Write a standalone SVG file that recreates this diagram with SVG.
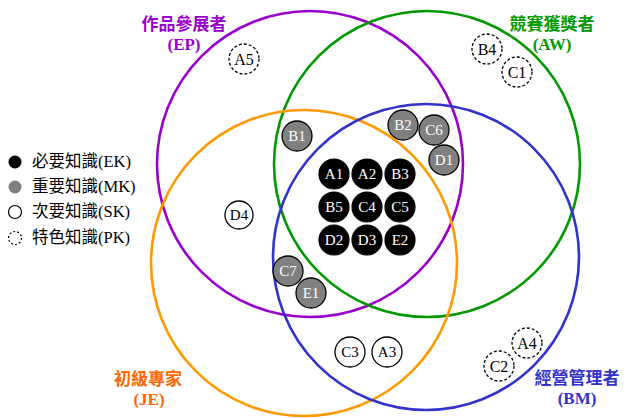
<svg xmlns="http://www.w3.org/2000/svg" width="624" height="418" viewBox="0 0 624 418">
<style>
.set{fill:none;stroke-width:2.6}
.lbl{font-family:"Liberation Serif","Noto Sans CJK TC",serif;font-weight:bold;font-size:17px;text-anchor:middle}
.leg{font-family:"Liberation Serif","Noto Sans CJK TC",serif;font-size:16.5px}
.n{font-family:"Liberation Serif",serif;font-size:15px;text-anchor:middle}
.p{font-size:16px}
.ek{fill:#000;stroke:#000;stroke-width:1.2}
.mk{fill:#808080;stroke:#000;stroke-width:1.3}
.sk{fill:#fff;stroke:#000;stroke-width:1.3}
.pk{fill:#fff;stroke:#000;stroke-width:1.3;stroke-dasharray:3 2}
.wt{fill:#fff}
.bt{fill:#000}
</style>
<rect width="624" height="418" fill="#fff"/>
<g id="sets">
<circle class="set" cx="310" cy="164" r="153" stroke="#9900CC"/>
<circle class="set" cx="427" cy="164" r="153" stroke="#009900"/>
<circle class="set" cx="304" cy="263" r="153" stroke="#FF9900"/>
<circle class="set" cx="426" cy="257" r="153" stroke="#3333CC"/>
</g>
<g id="set-labels">
<text class="lbl" x="184" y="30" fill="#9900CC">作品參展者</text>
<text class="lbl" x="184" y="50" fill="#9900CC">(EP)</text>
<text class="lbl" x="552" y="30" fill="#009900">競賽獲獎者</text>
<text class="lbl" x="552" y="50" fill="#009900">(AW)</text>
<text class="lbl" x="148" y="385" fill="#FF6600">初級專家</text>
<text class="lbl" x="149" y="405" fill="#FF6600">(JE)</text>
<text class="lbl" x="577" y="384" fill="#3333CC">經營管理者</text>
<text class="lbl" x="577" y="404" fill="#3333CC">(BM)</text>
</g>
<g id="legend">
<circle cx="15" cy="162" r="6.5" fill="#000"/>
<text class="leg" x="32" y="167">必要知識(EK)</text>
<circle cx="15" cy="187" r="6.5" fill="#808080"/>
<text class="leg" x="32" y="192">重要知識(MK)</text>
<circle cx="15" cy="212" r="6.5" fill="#fff" stroke="#000" stroke-width="1.2"/>
<text class="leg" x="32" y="217">次要知識(SK)</text>
<circle cx="15" cy="238" r="6.5" fill="#fff" stroke="#000" stroke-width="1.2" stroke-dasharray="2 2"/>
<text class="leg" x="32" y="243">特色知識(PK)</text>
</g>
<g id="connectors"></g>
<g id="nodes">
<g id="A1"><circle class="ek" cx="334" cy="174" r="15"/><text class="n wt" x="334" y="179">A1</text></g>
<g id="A2"><circle class="ek" cx="367" cy="174" r="15"/><text class="n wt" x="367" y="179">A2</text></g>
<g id="B3"><circle class="ek" cx="400" cy="174" r="15"/><text class="n wt" x="400" y="179">B3</text></g>
<g id="B5"><circle class="ek" cx="334" cy="207" r="15"/><text class="n wt" x="334" y="212">B5</text></g>
<g id="C4"><circle class="ek" cx="367" cy="207" r="15"/><text class="n wt" x="367" y="212">C4</text></g>
<g id="C5"><circle class="ek" cx="400" cy="207" r="15"/><text class="n wt" x="400" y="212">C5</text></g>
<g id="D2"><circle class="ek" cx="334" cy="240" r="15"/><text class="n wt" x="334" y="245">D2</text></g>
<g id="D3"><circle class="ek" cx="367" cy="240" r="15"/><text class="n wt" x="367" y="245">D3</text></g>
<g id="E2"><circle class="ek" cx="400" cy="240" r="15"/><text class="n wt" x="400" y="245">E2</text></g>
<g id="B1"><circle class="mk" cx="297" cy="136" r="15"/><text class="n wt" x="297" y="141">B1</text></g>
<g id="B2"><circle class="mk" cx="403" cy="125" r="15"/><text class="n wt" x="403" y="130">B2</text></g>
<g id="C6"><circle class="mk" cx="434" cy="130" r="15"/><text class="n wt" x="434" y="135">C6</text></g>
<g id="D1"><circle class="mk" cx="444" cy="160" r="15"/><text class="n wt" x="444" y="165">D1</text></g>
<g id="C7"><circle class="mk" cx="288" cy="271" r="15"/><text class="n wt" x="288" y="276">C7</text></g>
<g id="E1"><circle class="mk" cx="311" cy="293" r="15"/><text class="n wt" x="311" y="298">E1</text></g>
<g id="D4"><circle class="sk" cx="239" cy="215" r="14"/><text class="n bt" x="239" y="220">D4</text></g>
<g id="C3"><circle class="sk" cx="350" cy="352" r="15"/><text class="n bt" x="350" y="357">C3</text></g>
<g id="A3"><circle class="sk" cx="387" cy="352" r="15"/><text class="n bt" x="387" y="357">A3</text></g>
<g id="A5"><circle class="pk" cx="244" cy="59" r="15"/><text class="n p bt" x="244" y="65">A5</text></g>
<g id="B4"><circle class="pk" cx="487" cy="49" r="15"/><text class="n p bt" x="487" y="55">B4</text></g>
<g id="C1"><circle class="pk" cx="517" cy="72" r="15"/><text class="n p bt" x="517" y="78">C1</text></g>
<g id="A4"><circle class="pk" cx="527" cy="343" r="15"/><text class="n p bt" x="527" y="349">A4</text></g>
<g id="C2"><circle class="pk" cx="499" cy="366" r="15"/><text class="n p bt" x="499" y="372">C2</text></g>
</g>
</svg>
